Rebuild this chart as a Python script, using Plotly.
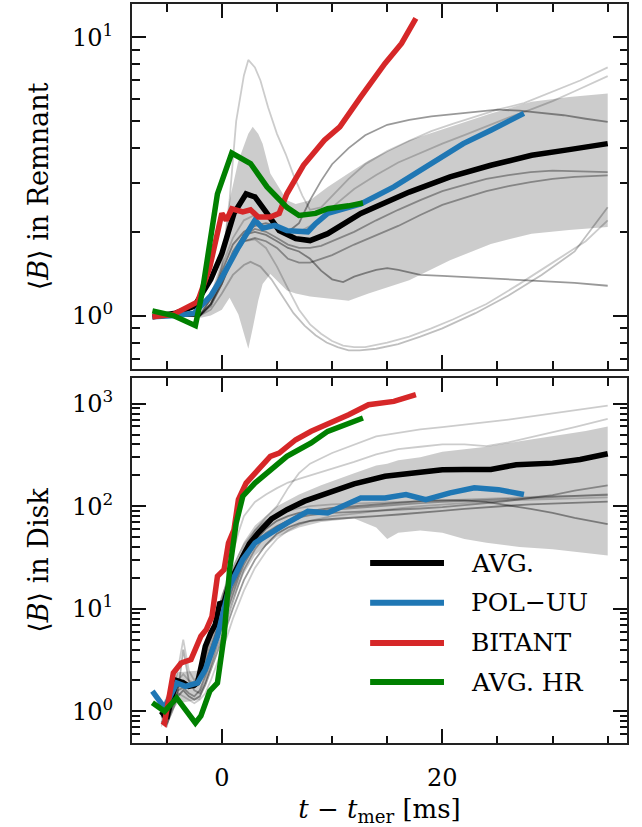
import plotly.graph_objects as go

# ---------------- Remnant (top panel) ----------------
t_avg_rem = [-6.3, -4.2, -2.5, -1.0, 0.0, 1.1, 2.2, 3.0, 4.1, 5.2, 6.7, 8.0, 9.6, 12.6, 17.0, 20.7, 24.4, 28.1, 31.5, 35.0]
b_avg_rem = [0.99, 1.02, 1.08, 1.35, 1.67, 2.33, 2.74, 2.67, 2.33, 2.02, 1.89, 1.86, 1.97, 2.33, 2.78, 3.15, 3.47, 3.77, 3.95, 4.15]

t_pol_rem = [-6.3, -4.2, -2.5, -1.0, 0.0, 1.5, 3.0, 3.7, 4.8, 5.9, 7.8, 8.5, 9.6, 12.6, 15.6, 18.9, 21.9, 24.4, 27.4]
b_pol_rem = [0.99, 1.0, 1.02, 1.18, 1.37, 1.76, 2.2, 2.06, 2.11, 2.02, 2.0, 2.14, 2.33, 2.52, 2.9, 3.52, 4.15, 4.64, 5.33]

t_bit_rem = [-6.3, -4.4, -2.2, -1.1, 0.0, 0.4, 0.9, 1.9, 2.6, 3.3, 4.4, 5.2, 5.9, 7.4, 9.3, 10.7, 12.6, 14.8, 16.3, 17.6]
b_bit_rem = [0.99, 1.01, 1.12, 1.49, 2.33, 2.2, 2.42, 2.36, 2.4, 2.26, 2.26, 2.33, 2.74, 3.47, 4.27, 4.77, 6.11, 8.06, 9.51, 11.7]

t_hr_rem = [-6.3, -4.4, -2.4, -1.8, -0.4, 0.2, 0.9, 2.6, 4.1, 5.9, 7.0, 8.5, 9.6, 11.5, 12.8]
b_hr_rem = [1.04, 1.0, 0.92, 1.2, 2.74, 3.24, 3.84, 3.52, 2.9, 2.45, 2.29, 2.33, 2.42, 2.48, 2.54]

t_band_rem = [-6.3, -4.0, -2.0, -1.0, 0.0, 0.7, 1.5, 2.4, 2.8, 3.3, 3.7, 4.4, 5.9, 6.7, 8.0, 9.6, 11.5, 13.3, 17.0, 20.7, 24.4, 28.1, 31.5, 35.0]
band_hi_rem = [1.0, 1.0, 1.02, 1.2, 1.6, 2.6, 3.6, 4.5, 4.77, 4.5, 4.15, 3.24, 2.6, 2.52, 2.6, 2.9, 3.25, 3.61, 4.27, 4.77, 5.33, 5.87, 6.1, 6.29]
band_lo_rem = [1.0, 1.0, 0.98, 1.0, 1.05, 1.16, 1.01, 0.76, 0.9, 1.13, 1.3, 1.41, 1.23, 1.2, 1.17, 1.15, 1.13, 1.2, 1.34, 1.58, 1.81, 1.97, 2.03, 2.08]

t_rem_runs = [
    [-6.3, -4, -2, -1, 0, 0.7, 1.3, 2, 2.4, 3, 3.5, 4.2, 5, 5.8, 6.5, 7.3, 8, 9, 10, 11.5, 13, 15, 17, 19, 21, 23, 25, 27.4, 30, 32.5, 35],
    [-6.3, -4, -2, -1, 0, 1, 2, 3, 4, 5, 6, 7, 8, 9, 10, 12, 14, 16, 18, 20, 22, 24, 26, 28, 30, 32, 35],
    [-6.3, -4, -2, -1, 0, 1, 2, 3, 4, 5, 6, 7, 8, 9, 10, 11.5, 13, 15, 17, 19, 21, 23, 25, 27, 29, 31, 33, 35],
    [-6.3, -4, -2, -1, 0, 1, 2, 3, 4, 5, 6, 7, 8, 9, 10, 12, 14, 16, 18, 20, 22, 24, 26, 28, 30, 32, 35],
    [-6.3, -4, -2, -1, 0, 1, 2, 3, 4, 5, 6, 7, 8, 9, 10, 12, 14, 16, 18, 20, 22, 24, 26, 28, 30, 32, 35],
    [-6.3, -4, -2, -1, 0, 1, 2, 3, 4, 5, 6, 7, 8, 9, 10, 11, 12, 13, 14, 15, 16, 17, 18, 20, 23, 26, 29, 32, 35],
    [-6.3, -4, -2, -1, 0, 1, 2, 2.6, 3.5, 4.5, 5.5, 6.5, 7.5, 8.5, 9.5, 10.5, 11.5, 12.5, 14, 16, 18, 20, 23, 26, 29, 32, 35],
    [-6.3, -4, -2, -1, 0, 1, 2, 3, 4, 5, 6, 7, 8, 9, 10, 11, 12, 13, 15, 17, 19, 21, 24, 27, 30, 33, 35],
]
b_rem_runs = [
    [1.0, 1.0, 1.0, 1.1, 1.5, 2.6, 5.0, 7.3, 8.3, 7.8, 7.0, 5.6, 4.5, 3.8, 3.2, 2.7, 2.4, 2.45, 2.7, 3.1, 3.5, 3.9, 4.25, 4.6, 4.9, 5.2, 5.5, 5.8, 6.4, 7.0, 7.8],
    [1.0, 1.0, 1.0, 1.15, 1.5, 1.9, 2.2, 2.3, 2.25, 2.1, 2.0, 2.0, 2.1, 2.25, 2.45, 2.85, 3.2, 3.55, 3.85, 4.15, 4.45, 4.8, 5.15, 5.5, 5.9, 6.4, 7.26],
    [1.0, 1.0, 1.0, 1.15, 1.45, 1.8, 2.0, 2.1, 2.15, 2.1, 2.0, 2.15, 2.6, 3.05, 3.5, 4.0, 4.45, 4.85, 5.05, 5.2, 5.3, 5.4, 5.5, 5.45, 5.35, 5.25, 5.1, 4.97],
    [1.0, 1.0, 1.0, 1.1, 1.35, 1.7, 1.95, 2.05, 2.0, 1.9, 1.8, 1.75, 1.75, 1.78, 1.85, 2.0, 2.2, 2.4, 2.6, 2.8, 2.95, 3.1, 3.2, 3.28, 3.32, 3.3, 3.28],
    [1.0, 1.0, 1.0, 1.08, 1.3, 1.6, 1.85, 1.9, 1.85, 1.75, 1.6, 1.55, 1.55, 1.6, 1.65, 1.8, 1.95, 2.1, 2.3, 2.5, 2.65, 2.8, 2.92, 3.02, 3.1, 3.15, 3.19],
    [1.0, 1.0, 1.0, 1.1, 1.3, 1.65, 1.95, 2.0, 1.95, 1.85, 1.75, 1.7, 1.6, 1.45, 1.35, 1.32, 1.38, 1.42, 1.46, 1.48, 1.46, 1.43, 1.4, 1.39, 1.37, 1.35, 1.33, 1.31, 1.28],
    [1.0, 1.0, 1.0, 1.05, 1.2, 1.4, 1.52, 1.56, 1.5, 1.35, 1.18, 1.02, 0.92, 0.85, 0.8, 0.77, 0.75, 0.75, 0.76, 0.79, 0.84, 0.9, 1.02, 1.18, 1.4, 1.7, 2.45],
    [1.0, 1.0, 1.0, 1.1, 1.35, 1.65, 1.85, 1.88, 1.75, 1.5, 1.25, 1.05, 0.93, 0.86, 0.81, 0.78, 0.77, 0.77, 0.8, 0.84, 0.9, 0.97, 1.1, 1.3, 1.55, 1.85, 2.2],
]
rem_run_alpha = [0.2, 0.2, 0.4, 0.35, 0.35, 0.4, 0.25, 0.2]

# ---------------- Disk (bottom panel) ----------------
t_avg_disk = [-5.5, -5.0, -4.5, -4.1, -3.5, -3.0, -2.5, -2.2, -1.8, -1.5, -1.0, -0.6, -0.2, 0.2, 0.7, 1.3, 1.9, 2.5, 3.3, 4.5, 5.9, 7.5, 9.6, 12.0, 14.8, 17.0, 20.0, 22.0, 24.4, 26.7, 30.0, 32.5, 35.0]
b_avg_disk = [1.0, 0.85, 1.4, 2.0, 1.9, 1.75, 1.8, 1.9, 3.0, 4.3, 5.8, 7.0, 11.2, 11.5, 17.9, 25, 32.5, 43, 55, 75, 92.5, 112, 134, 165, 196, 208, 227, 228, 228, 254, 263, 285, 325]

t_pol_disk = [-6.3, -5.2, -4.1, -3.3, -2.2, -1.5, -0.4, 0.7, 1.9, 3.0, 5.9, 7.8, 9.6, 12.6, 14.8, 16.7, 18.5, 20.7, 22.9, 25.1, 27.4]
b_pol_disk = [1.57, 1.08, 1.89, 1.75, 1.89, 2.55, 5.4, 16.6, 30.2, 43.8, 68.5, 89, 86, 120, 120, 130, 116, 135, 151, 145, 130]

t_bit_disk = [-5.4, -5.2, -4.4, -3.7, -2.8, -2.2, -1.9, -1.4, -0.9, -0.4, 0.2, 0.6, 1.1, 1.5, 2.2, 3.3, 4.4, 5.2, 6.7, 8.1, 9.6, 11.5, 13.3, 15.6, 17.6]
b_bit_disk = [0.8, 0.77, 2.37, 2.96, 3.19, 4.64, 5.39, 6.3, 8.4, 20.7, 24, 43.8, 59, 116, 168, 227, 306, 330, 445, 537, 624, 780, 977, 1052, 1223]

t_hr_disk = [-6.3, -5.2, -4.1, -2.4, -1.9, -1.1, -0.4, 0.2, 0.7, 1.3, 1.9, 3.0, 5.9, 8.1, 9.6, 11.5, 12.8]
b_hr_disk = [1.21, 1.0, 1.35, 0.77, 0.9, 1.57, 1.89, 5.4, 24, 68.5, 125, 168, 306, 413, 537, 647, 724]

t_band_disk = [-5.5, -4.0, -2.0, -1.0, 0.0, 1.0, 2.0, 3.0, 5.0, 7.0, 9.0, 12.0, 14.0, 15.0, 16.0, 18.0, 20.0, 22.0, 24.0, 27.0, 30.0, 33.0, 35.0]
band_hi_disk = [1.1, 2.4, 2.5, 6.0, 14, 26, 45, 65, 100, 130, 160, 210, 250, 260, 280, 300, 340, 360, 380, 430, 480, 540, 600]
band_lo_disk = [0.7, 1.2, 1.3, 2.6, 6.0, 12, 22, 33, 50, 62, 70, 76, 62, 48, 55, 58, 55, 48, 44, 40, 38, 35, 33]

t_disk_grid = [-5.5, -5, -4.5, -4, -3.5, -3, -2.5, -2, -1.5, -1, -0.5, 0, 0.5, 1, 1.5, 2, 3, 4, 5, 6, 7, 8, 10, 12, 14, 16, 18, 20, 22, 24, 26, 28, 30, 32, 35]
b_disk_runs = [
    [0.9, 0.8, 1.5, 1.8, 1.9, 1.7, 1.8, 2.2, 3.0, 4.5, 6.5, 9, 14, 20, 28, 38, 58, 78, 100, 150, 210, 260, 330, 400, 480, 520, 560, 590, 620, 660, 700, 750, 800, 860, 955],
    [1.0, 0.85, 1.3, 2.0, 2.3, 2.0, 1.9, 2.4, 3.5, 5.5, 8, 12, 20, 35, 55, 80, 110, 130, 150, 170, 185, 200, 230, 270, 320, 360, 380, 400, 400, 385, 420, 470, 520, 590, 710],
    [0.8, 0.72, 1.1, 1.6, 1.7, 1.5, 1.4, 1.6, 2.2, 3.2, 4.5, 6.5, 9.5, 14, 20, 27, 42, 55, 64, 72, 78, 82, 86, 88, 90, 92, 95, 98, 102, 107, 113, 120, 128, 142, 160],
    [1.1, 0.9, 1.2, 1.5, 4.0, 2.0, 1.6, 1.5, 1.9, 2.8, 4, 5.5, 8, 12, 17, 24, 38, 52, 63, 72, 80, 86, 92, 96, 100, 104, 107, 110, 112, 114, 117, 120, 123, 126, 130],
    [1.0, 0.75, 1.0, 1.4, 1.6, 1.4, 1.3, 1.4, 1.8, 2.5, 3.5, 5, 7, 10, 14, 19, 30, 42, 54, 62, 68, 72, 75, 77, 80, 83, 86, 90, 94, 98, 101, 104, 106, 108, 111],
    [1.2, 0.9, 1.3, 1.7, 2.0, 1.8, 1.7, 2.0, 2.8, 4, 6, 8, 11, 16, 22, 30, 45, 60, 72, 80, 86, 90, 96, 100, 104, 108, 112, 114, 114, 110, 102, 94, 86, 77, 67],
    [0.9, 0.8, 1.2, 1.5, 1.4, 1.3, 1.2, 1.3, 1.5, 2.0, 2.8, 3.8, 5.5, 8, 11, 15, 25, 36, 48, 58, 66, 72, 80, 85, 90, 95, 100, 104, 108, 111, 114, 116, 118, 120, 122],
    [1.0, 0.85, 1.4, 2.5, 5.0, 2.5, 2.0, 2.3, 3.2, 5.0, 8, 13, 18, 25, 33, 42, 58, 72, 82, 90, 96, 100, 104, 106, 108, 110, 112, 115, 117, 119, 121, 123, 125, 126, 128],
]
disk_run_alpha = [0.2, 0.2, 0.35, 0.3, 0.4, 0.4, 0.2, 0.2]

series_names = ["AVG.", "POL\u2212UU", "BITANT", "AVG. HR"]
series_colors = ["#000000", "#1f77b4", "#d62728", "#008000"]

FONT = "DejaVu Serif"
LINE_W = 5.5

fig = go.Figure()


def add_panel(xa, ya, t_band, lo, hi, t_runs, b_runs, alphas, main):
    fig.add_trace(go.Scatter(x=t_band, y=lo, mode="lines", line=dict(width=0),
                             xaxis=xa, yaxis=ya, showlegend=False, hoverinfo="skip"))
    fig.add_trace(go.Scatter(x=t_band, y=hi, mode="lines", line=dict(width=0),
                             fill="tonexty", fillcolor="rgba(0,0,0,0.2)",
                             xaxis=xa, yaxis=ya, showlegend=False, hoverinfo="skip"))
    for tr, br, a in zip(t_runs, b_runs, alphas):
        fig.add_trace(go.Scatter(x=tr, y=br, mode="lines",
                                 line=dict(color=f"rgba(0,0,0,{a})", width=1.8),
                                 xaxis=xa, yaxis=ya, showlegend=False))
    for (tt, bb), name, col in zip(main, series_names, series_colors):
        fig.add_trace(go.Scatter(x=tt, y=bb, mode="lines", name=name,
                                 line=dict(color=col, width=LINE_W),
                                 showlegend=False, xaxis=xa, yaxis=ya))


add_panel("x", "y", t_band_rem, band_lo_rem, band_hi_rem, t_rem_runs, b_rem_runs, rem_run_alpha,
          [(t_avg_rem, b_avg_rem), (t_pol_rem, b_pol_rem), (t_bit_rem, b_bit_rem), (t_hr_rem, b_hr_rem)])
add_panel("x2", "y2", t_band_disk, band_lo_disk, band_hi_disk,
          [t_disk_grid] * len(b_disk_runs), b_disk_runs, disk_run_alpha,
          [(t_avg_disk, b_avg_disk), (t_pol_disk, b_pol_disk), (t_bit_disk, b_bit_disk), (t_hr_disk, b_hr_disk)])

# legend drawn inside the disk panel: line sample + label per series
leg_x0, leg_x1, leg_text_x = 13.45, 20.15, 22.4
leg_rows = [0.493, 0.384, 0.274, 0.167]
for name, col, yy in zip(series_names, series_colors, leg_rows):
    fig.add_shape(type="line", xref="x2", yref="y2 domain", x0=leg_x0, x1=leg_x1, y0=yy, y1=yy,
                  line=dict(color=col, width=6))
    fig.add_annotation(xref="x2", yref="y2 domain", x=leg_text_x, y=yy, text=name,
                       showarrow=False, xanchor="left", yanchor="middle",
                       font=dict(family=FONT, size=25, color="black"))

TICK_C = "#111111"
frame = dict(showline=True, linecolor="#222222", linewidth=2, mirror="ticks",
             ticks="inside", ticklen=14, tickwidth=1.8, tickcolor=TICK_C,
             showgrid=False, zeroline=False, automargin=False,
             tickfont=dict(family=FONT, size=24, color="black"))
minor_style = dict(ticks="inside", ticklen=7.5, tickwidth=1.5, tickcolor=TICK_C)

x_common = dict(frame, range=[-8.15, 36.75], tick0=0, dtick=20,
                minor=dict(minor_style, tick0=0, dtick=5))

rem_minor = [0.7, 0.8, 0.9, 2, 3, 4, 5, 6, 7, 8, 9]
disk_minor = [0.6, 0.7, 0.8, 0.9] + [k for k in range(2, 10)] + [k * 10 for k in range(2, 10)] + [k * 100 for k in range(2, 10)]

fig.update_layout(
    width=642, height=827,
    margin=dict(l=132, r=15, t=4, b=84),
    plot_bgcolor="white", paper_bgcolor="white",
    font=dict(family=FONT, color="black"),
    showlegend=False,
    xaxis=dict(x_common, domain=[0, 1], anchor="y", showticklabels=False, matches="x2"),
    xaxis2=dict(x_common, domain=[0, 1], anchor="y2", ticklabelstandoff=12,
                title=dict(text="<i>t</i> \u2212 <i>t</i><sub>mer</sub> [ms]",
                           font=dict(family=FONT, size=26), standoff=14)),
    yaxis=dict(frame, type="log", domain=[0.5061, 1], anchor="x", range=[-0.192, 1.12],
               tickvals=[1, 10], ticktext=["10<sup>0</sup>", "10<sup>1</sup>"], ticklabelstandoff=12,
               minor=dict(minor_style, tickmode="array", tickvals=rem_minor),
               title=dict(text="\u27e8<i>B</i>\u27e9 in Remnant", font=dict(family=FONT, size=27), standoff=16)),
    yaxis2=dict(frame, type="log", domain=[0, 0.4939], anchor="x2", range=[-0.309, 3.25],
                tickvals=[1, 10, 100, 1000],
                ticktext=["10<sup>0</sup>", "10<sup>1</sup>", "10<sup>2</sup>", "10<sup>3</sup>"], ticklabelstandoff=12,
                minor=dict(minor_style, tickmode="array", tickvals=disk_minor),
                title=dict(text="\u27e8<i>B</i>\u27e9 in Disk", font=dict(family=FONT, size=27), standoff=16)),
)

fig.write_html("out.html")
